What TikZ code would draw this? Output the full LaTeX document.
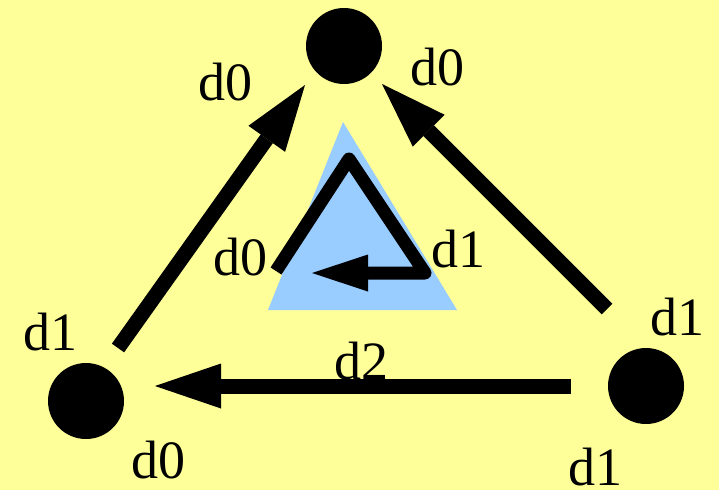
\documentclass[tikz,border=0pt]{standalone}
\usepackage{fontspec}
\setmainfont{Liberation Serif}
\usetikzlibrary{arrows.meta}
\definecolor{bgyellow}{HTML}{FFFF99}
\definecolor{triblue}{HTML}{99CCFF}
\begin{document}
\begin{tikzpicture}[x=1pt,y=-1pt,
  dot/.style={circle,fill=black,inner sep=0pt,minimum size=76pt},
  lbl/.style={inner sep=0pt,anchor=base,font=\fontsize{54}{60}\selectfont},
  bigarrow/.style={line width=15pt,-{Triangle[length=66pt,width=45pt,line width=0pt]}},
  smallarrow/.style={line width=13pt,line join=round,-{Triangle[length=56pt,width=37pt,line width=0pt]}}]
\fill[bgyellow] (0,0) rectangle (719,490);
\useasboundingbox (0,0) rectangle (719,490);
% triangle
\fill[triblue] (343,122) -- (457,310) -- (268,310) -- cycle;
% vertices
\node[dot] (top) at (344,46) {};
\node[dot] (bl) at (86,401) {};
\node[dot] (br) at (646,386) {};
% arrow ends
\coordinate (ls) at (118,348);
\coordinate (le) at (305,85);
\coordinate (rs) at (607,309);
\coordinate (re) at (382,84);
\coordinate (bs) at (571,386);
\coordinate (be) at (155,386);
\draw[bigarrow] (ls) -- (le);
\draw[bigarrow] (rs) -- (re);
\draw[bigarrow] (bs) -- (be);
% inner path
\coordinate (p1) at (276,271);
\coordinate (p2) at (349,159);
\coordinate (p3) at (425,273);
\coordinate (p4) at (312,273);
\draw[smallarrow] (p1) -- (p2) -- (p3) -- (p4);
% labels
\node[lbl] (t1) at (225,100) {d0};
\node[lbl] (t2) at (437,85) {d0};
\node[lbl] (t3) at (240,275) {d0};
\node[lbl] (t4) at (458,267) {d1};
\node[lbl] (t5) at (50,350) {d1};
\node[lbl] (t6) at (158,478) {d0};
\node[lbl] (t7) at (361,379) {d2};
\node[lbl] (t8) at (677,335) {d1};
\node[lbl] (t9) at (595,485) {d1};
\end{tikzpicture}
\end{document}
